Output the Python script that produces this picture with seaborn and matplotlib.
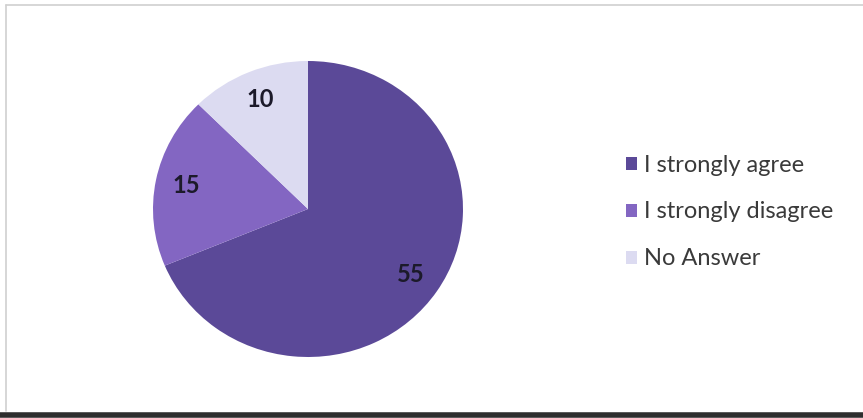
import matplotlib
matplotlib.use("Agg")
import matplotlib.pyplot as plt
from matplotlib.lines import Line2D
from matplotlib.patches import Patch
import seaborn as sns

categories = ["I strongly agree", "I strongly disagree", "No Answer"]
values = [55, 15, 10]
colors = ["#5b4998", "#8366c2", "#dcdbf1"]

sns.set_theme(style="white")
plt.rcParams["font.family"] = ["Lato", "DejaVu Sans"]

W, H = 863, 418
fig = plt.figure(figsize=(W / 100, H / 100), dpi=100)
fig.patch.set_facecolor("white")

# pie axes placed in pixel terms
cx, cy, rx, ry = 308, 209, 155, 148
ax = fig.add_axes([(cx - rx) / W, 1 - (cy + ry) / H, 2 * rx / W, 2 * ry / H])
wedges, texts, autotexts = ax.pie(
    values,
    colors=colors,
    startangle=90,
    counterclock=False,
    autopct=lambda p: f"{round(p * sum(values) / 100):d}",
    pctdistance=0.8,
    wedgeprops=dict(linewidth=0),
    textprops=dict(fontsize=17, fontweight="bold", color="#1c1a2a"),
)
ax.set_xlim(-1, 1)
ax.set_ylim(-1, 1)
ax.set_aspect("auto")
ax.axis("off")

handles = [Patch(facecolor=c, edgecolor="none") for c in colors]
fig.legend(
    handles, categories,
    loc="center left",
    bbox_to_anchor=(614 / W, 1 - 212 / H),
    frameon=False,
    fontsize=17,
    labelcolor="#3a3a3a",
    handlelength=0.48,
    handleheight=0.48,
    handletextpad=0.3,
    labelspacing=1.1,
    borderpad=0,
)

# chart border
fig.add_artist(Line2D([6 / W, 1], [1 - 5 / H, 1 - 5 / H], color="#d0d0d0", lw=1.2))
fig.add_artist(Line2D([6 / W, 6 / W], [1 - 5 / H, 1 - 411 / H], color="#d0d0d0", lw=1.2))
fig.add_artist(Line2D([0, 1], [1 - 415 / H, 1 - 415 / H], color="#2e2e2e", lw=4))

fig.savefig("out.png", dpi=100, facecolor="white")
